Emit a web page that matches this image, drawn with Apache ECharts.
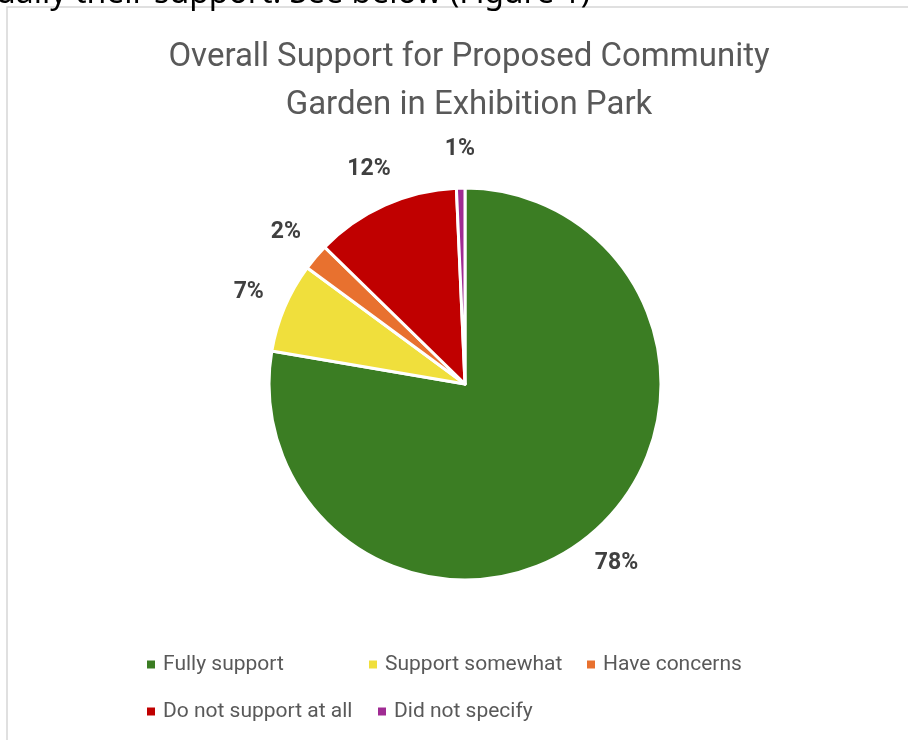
<!DOCTYPE html>
<html>
<head>
<meta charset="utf-8">
<script src="https://cdn.jsdelivr.net/npm/echarts@6/dist/echarts.min.js"></script>
<style>
html,body{margin:0;padding:0;background:#fff;}
#c{width:908px;height:740px;}
</style>
</head>
<body>
<div id="c"></div>
<script>
const categories = ['Fully support', 'Support somewhat', 'Have concerns', 'Do not support at all', 'Did not specify'];
const values = [77.7, 7.4, 2.2, 12.0, 0.7];
const colors = ['#3B7D23', '#F0DF3C', '#E8712F', '#C00000', '#A02B93'];
const titleText = 'Overall Support for Proposed Community\nGarden in Exhibition Park';
const topText = 'ually their support. See below (Figure 1)';

const pieData = categories.map((n, i) => ({ name: n, value: values[i], itemStyle: { color: colors[i] } }));
const labelData = categories.map((n, i) => ({ name: n, value: values[i] }));

const legendPos = [
  { left: 145, top: 654 },
  { left: 367, top: 654 },
  { left: 585, top: 654 },
  { left: 145, top: 701 },
  { left: 376, top: 701 }
];
const legends = categories.map((n, i) => ({
  left: legendPos[i].left, top: legendPos[i].top,
  data: [{ name: n, itemStyle: { color: colors[i] } }],
  icon: 'rect', itemWidth: 10, itemHeight: 10, padding: 0,
  selectedMode: false,
  textStyle: { fontFamily: 'Roboto', fontSize: 21, color: '#595959', padding: [0, 0, 0, 2] }
}));

const chart = echarts.init(document.getElementById('c'), null, { renderer: 'canvas' });
chart.setOption({
  animation: false,
  backgroundColor: '#fff',
  title: {
    text: titleText, left: 464, top: 29, textAlign: 'center',
    textStyle: { fontFamily: 'Roboto', fontSize: 33, fontWeight: 'normal', color: '#595959', lineHeight: 48 }
  },
  legend: legends,
  graphic: [
    { type: 'rect', shape: { x: 7, y: 7, width: 950, height: 800 }, style: { fill: 'none', stroke: '#d6d6d6', lineWidth: 1.5 }, silent: true },
    { type: 'text', x: -4, y: -22, style: { text: topText, font: '32px "Noto Sans"', fill: '#000' }, silent: true }
  ],
  series: [
    {
      type: 'pie', center: [465, 384], radius: [0, 196], startAngle: 90, clockwise: true,
      data: pieData, silent: true,
      itemStyle: { borderColor: '#fff', borderWidth: 3 },
      label: { show: false }, labelLine: { show: false }
    },
    {
      type: 'pie', center: [465, 384], radius: [222, 242], startAngle: 90, clockwise: true,
      data: labelData, silent: true, legendHoverLink: false,
      itemStyle: { color: 'rgba(0,0,0,0)' },
      label: {
        show: true, position: 'inside', color: '#404040', fontFamily: 'Roboto', fontWeight: 'bold', fontSize: 23,
        formatter: p => Math.round(p.value) + '%'
      },
      labelLine: { show: false }
    }
  ]
});
</script>
</body>
</html>
